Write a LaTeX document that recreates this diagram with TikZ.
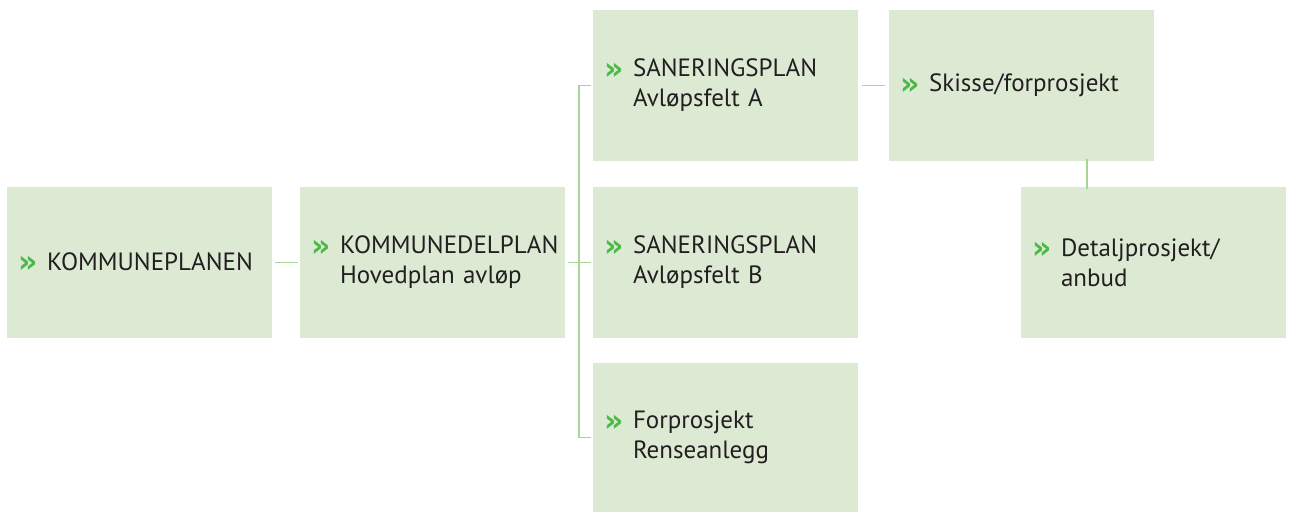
\documentclass[tikz,border=0pt]{standalone}
\usepackage{graphicx}
\usepackage{fontspec}
\setmainfont{PT Sans}
\newfontfamily\chevfont{DejaVu Sans}
\definecolor{boxfill}{RGB}{220,234,212}
\definecolor{linec}{RGB}{168,212,150}
\definecolor{chev}{RGB}{77,184,72}
\definecolor{txt}{RGB}{35,31,32}
\newcommand\chv{\makebox[29pt][l]{\raisebox{-2.5pt}{\scalebox{1.25}[1.3]{\textcolor{chev}{\chevfont\fontsize{24}{30}\selectfont\bfseries »}}}}}
\newcommand\ind{\hspace*{29pt}}
\begin{document}
\begin{tikzpicture}[x=1pt,y=-1pt,
  box/.style={fill=boxfill, draw=none, anchor=north west, minimum width=265pt, minimum height=151pt,
    inner xsep=11pt, inner ysep=0pt, outer sep=0pt, text width=243pt, align=left, text=txt,
    font=\fontsize{25}{30}\selectfont},
  conn/.style={draw=linec, line width=1.5pt}]
\useasboundingbox (0,0) rectangle (1289,512);
\node[box] (k1) at (7,187) {\chv KOMMUNEPLANEN};
\node[box] (k2) at (300,187) {\chv KOMMUNEDELPLAN\\\ind Hovedplan avløp};
\node[box] (sa) at (593,10) {\chv SANERINGSPLAN\\\ind Avløpsfelt A};
\node[box] (sb) at (593,187) {\chv SANERINGSPLAN\\\ind Avløpsfelt B};
\node[box, minimum height=149pt] (fr) at (593,363) {\chv Forprosjekt\\\ind Renseanlegg};
\node[box] (sk) at (889,10) {\chv Skisse/forprosjekt};
\node[box] (dt) at (1021,187) {\chv Detaljprosjekt/\\\ind anbud};
\coordinate (bx) at (579,0);
\coordinate (vx) at (1087,0);
\draw[conn] ([xshift=3pt]k1.east) -- ([xshift=-2pt]k2.west);
\draw[conn] ([xshift=3pt]k2.east) -- ([xshift=-2pt]sb.west);
\draw[conn] ([xshift=-2pt]sa.west) -| (bx |- fr.west) -- ([xshift=-2pt]fr.west);
\draw[conn] ([xshift=4pt]sa.east) -- ([xshift=-4pt]sk.west);
\draw[conn] ([yshift=2pt]vx |- sk.south) -- ([yshift=-2pt]vx |- dt.north);
\end{tikzpicture}
\end{document}
